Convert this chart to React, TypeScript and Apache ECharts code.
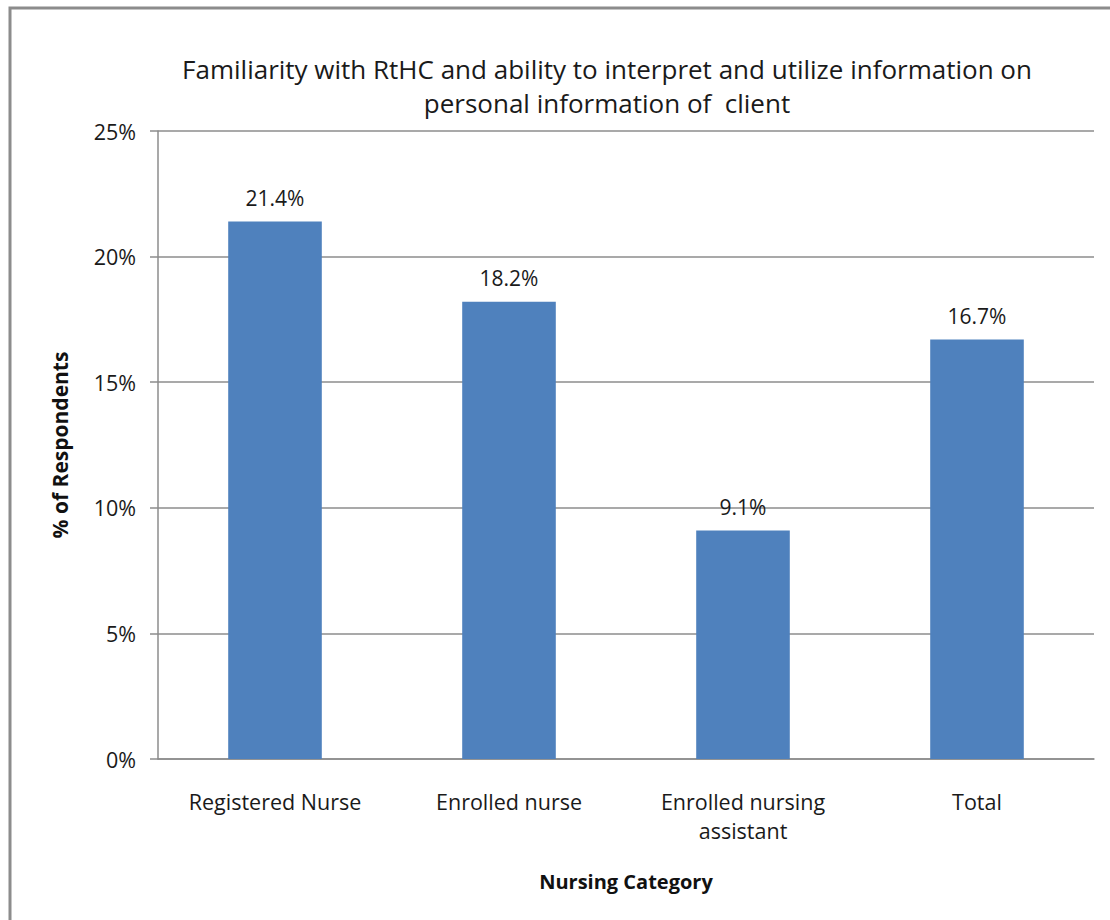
import React, { useEffect, useRef } from "react";
import * as echarts from "echarts";

const categories = ["Registered Nurse", "Enrolled nurse", "Enrolled nursing\nassistant", "Total"];
const values = [21.4, 18.2, 9.1, 16.7];
const titleLines = [
  "Familiarity with RtHC and ability to interpret and utilize information on",
  "personal information of  client",
];
const yAxisName = "% of Respondents";
const xAxisName = "Nursing Category";

const FONT = "'Open Sans', 'Noto Sans', sans-serif";

export default function App() {
  const ref = useRef<HTMLDivElement>(null);
  useEffect(() => {
    if (!ref.current) return;
    const chart = echarts.init(ref.current, undefined, { renderer: "svg" });
    chart.setOption({
      animation: false,
      backgroundColor: "#ffffff",
      title: {
        text: titleLines.join("\n"),
        left: 602,
        textAlign: "center",
        top: 47,
        textStyle: { fontFamily: FONT, fontSize: 26, fontWeight: "normal", color: "#1a1a1a", lineHeight: 34 },
      },
      graphic: [
        {
          type: "rect",
          shape: { x: 10, y: 8, width: 1130, height: 940 },
          style: { fill: "none", stroke: "#8c8c8c", lineWidth: 3 },
        },
      ],
      grid: { left: 158, right: 16, top: 131, bottom: 161 },
      xAxis: {
        type: "category",
        data: categories,
        name: xAxisName,
        nameLocation: "middle",
        nameGap: 112,
        nameTextStyle: { fontFamily: FONT, fontSize: 20, fontWeight: "bold", color: "#111" },
        axisLine: { lineStyle: { color: "#8c8c8c", width: 1.5 } },
        axisTick: { show: false },
        axisLabel: { fontFamily: FONT, fontSize: 21.5, color: "#1a1a1a", margin: 28, lineHeight: 29 },
      },
      yAxis: {
        type: "value",
        min: 0,
        max: 25,
        interval: 5,
        name: yAxisName,
        nameLocation: "middle",
        nameGap: 88,
        nameRotate: 90,
        nameTextStyle: { fontFamily: FONT, fontSize: 21, fontWeight: "bold", color: "#111" },
        axisLine: { show: true, lineStyle: { color: "#8c8c8c", width: 1.5 } },
        axisTick: { show: true, length: 8, lineStyle: { color: "#8c8c8c", width: 1.5 } },
        axisLabel: { fontFamily: FONT, fontSize: 21.5, color: "#1a1a1a", margin: 22, formatter: "{value}%" },
        splitLine: { lineStyle: { color: "#8c8c8c", width: 1.5 } },
      },
      series: [
        {
          type: "bar",
          data: values,
          barWidth: "40%",
          itemStyle: { color: "#4f81bd" },
          label: {
            show: true,
            position: "top",
            distance: 13,
            formatter: (p: any) => p.value.toFixed(1) + "%",
            fontFamily: FONT,
            fontSize: 21,
            color: "#1a1a1a",
          },
        },
      ],
    });
    return () => chart.dispose();
  }, []);
  return (
    <div
      ref={ref}
      style={{ position: "absolute", left: 0, top: 0, width: 1110, height: 920 }}
    />
  );
}
